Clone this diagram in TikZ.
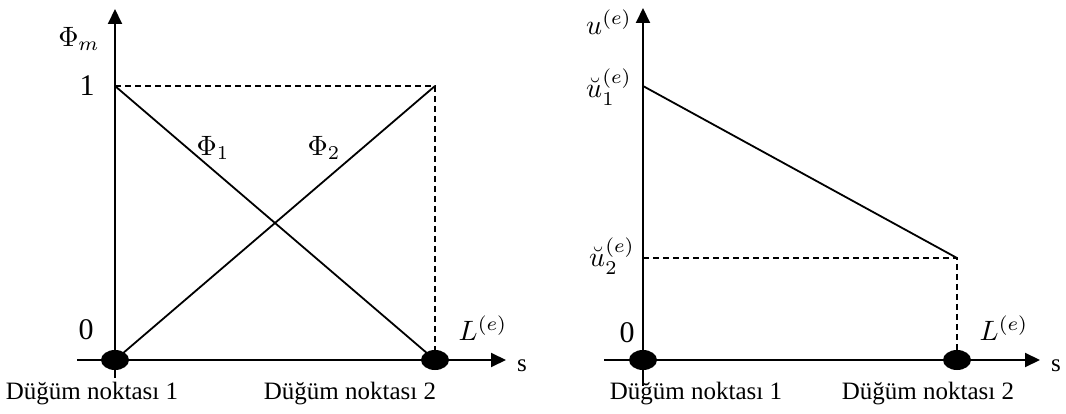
\documentclass[tikz,border=0pt]{standalone}
\usepackage{graphicx}
\usepackage{fontspec}
\setmainfont{Liberation Serif}
\usetikzlibrary{arrows.meta,shapes.geometric}
\newcommand{\mylargemath}[1]{\scalebox{2.8}{\normalsize$#1$}}
\tikzset{
  axis/.style={line width=2pt,-{Triangle[length=15pt,width=14pt]}},
  curve/.style={line width=1.8pt},
  dashline/.style={line width=1.8pt,dash pattern=on 6pt off 4pt},
  dot/.style={ellipse,fill=black,minimum width=28pt,minimum height=20pt,inner sep=0pt},
  lbl/.style={font=\fontsize{25}{28}\selectfont,inner sep=0pt},
  num/.style={font=\fontsize{30}{32}\selectfont,inner sep=0pt},
}
\begin{document}
\begin{tikzpicture}[x=1pt,y=-1pt]
\useasboundingbox (0,0) rectangle (1066,414);
% ---------- left plot ----------
\coordinate (LB) at (115,378);
\coordinate (LT) at (115,9);
\coordinate (LXs) at (77,360);
\coordinate (LXe) at (506,360);
\coordinate (L1) at (115,86);
\coordinate (LC) at (435,86);
\coordinate (LD) at (435,350);
\node[dot] (n1) at (115,360) {};
\node[dot] (n2) at (435,360) {};
\draw[axis] (LB) -- (LT);
\draw[axis] (LXs) -- (LXe);
\draw[curve] (L1) -- (n2.center);
\draw[curve] (n1.center) -- (LC);
\draw[dashline] (L1) -- (LC) -- (LD);
\node[lbl] (phim) at (79,39) {\mylargemath{\Phi_m}};
\node[num] (one) at (87,86) {1};
\node[num] (zero) at (86,330) {0};
\node[lbl] (phi1) at (213,148) {\mylargemath{\Phi_1}};
\node[lbl] (phi2) at (324,148) {\mylargemath{\Phi_2}};
\node[lbl] (Le1) at (483,328) {\mylargemath{L^{(e)}}};
\node[lbl] (s1) at (522,366) {s};
\node[lbl] (d1) at (92,394) {Düğüm noktası 1};
\node[lbl] (d2) at (350,394) {Düğüm noktası 2};
% ---------- right plot ----------
\coordinate (RB) at (643,386);
\coordinate (RT) at (643,8);
\coordinate (RXs) at (604,360);
\coordinate (RXe) at (1040,360);
\coordinate (RU1) at (643,86);
\coordinate (RU2) at (957,258);
\coordinate (RL) at (643,258);
\coordinate (RD) at (957,350);
\node[dot] (m1) at (643,360) {};
\node[dot] (m2) at (957,360) {};
\draw[axis] (RB) -- (RT);
\draw[axis] (RXs) -- (RXe);
\draw[curve] (RU1) -- (RU2);
\draw[dashline] (RL) -- (RU2) -- (RD);
\node[lbl] (ue) at (609,22) {\mylargemath{u^{(e)}}};
\node[lbl] (u1) at (609,87) {\mylargemath{\breve{u}_1^{(e)}}};
\node[lbl] (u2) at (612,256) {\mylargemath{\breve{u}_2^{(e)}}};
\node[num] (zero2) at (627,333) {0};
\node[lbl] (Le2) at (1004,328) {\mylargemath{L^{(e)}}};
\node[lbl] (s2) at (1056,366) {s};
\node[lbl] (d3) at (696,394) {Düğüm noktası 1};
\node[lbl] (d4) at (928,394) {Düğüm noktası 2};
\end{tikzpicture}
\end{document}
